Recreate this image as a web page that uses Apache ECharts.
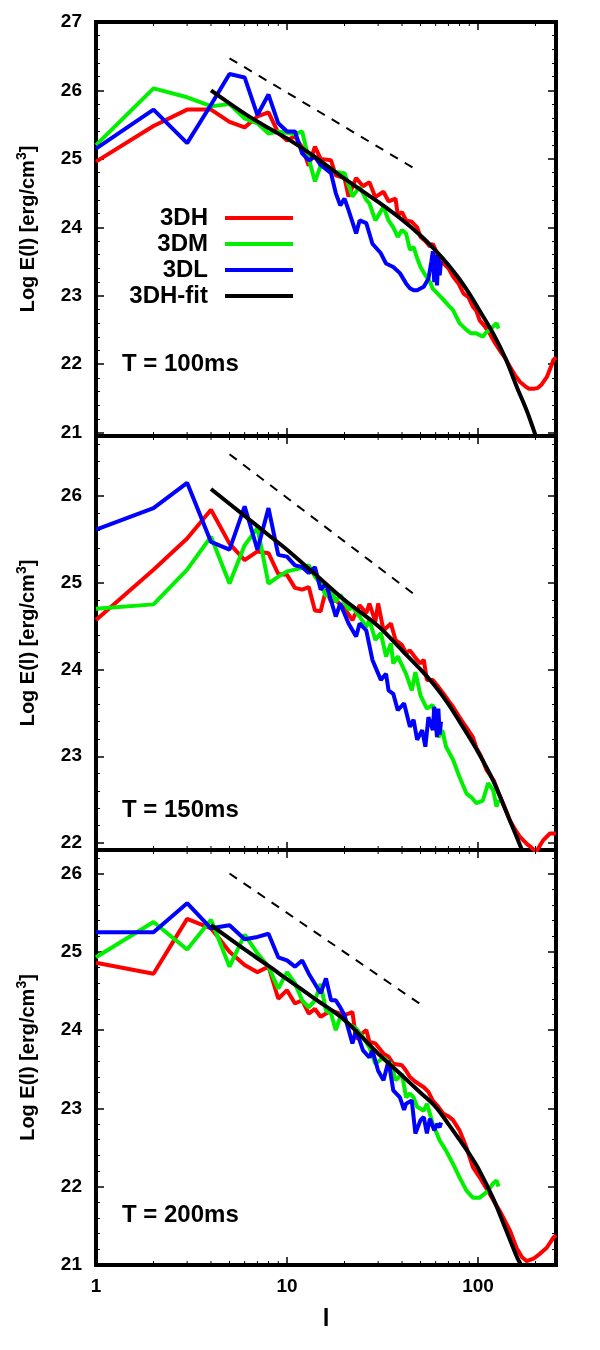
<!DOCTYPE html>
<html>
<head>
<meta charset="utf-8">
<script src="https://cdn.jsdelivr.net/npm/echarts@6/dist/echarts.min.js"></script>
<style>
html, body { margin: 0; padding: 0; background: #fff; }
#chart { width: 600px; height: 1350px; }
</style>
</head>
<body>
<div id="chart"></div>
<script>
// [l, log E] pairs

// T = 100ms
var p1Red = [[1,24.96],[2,25.48],[3,25.72],[4,25.72],[5,25.54],[6,25.46],[7,25.62],[8,25.68],[9,25.38],[10,25.27],[11,25.33],[12,25.17],[13,24.9],[14,25.18],[15,25.0],[17,24.98],[18,24.76],[20,24.72],[21,24.45],[23,24.72],[25,24.6],[27,24.66],[29,24.44],[32,24.52],[34,24.38],[37,24.42],[38,24.18],[40,24.22],[42,24.1],[45,24.08],[48,24.0],[50,23.86],[53,23.8],[56,23.72],[58,23.76],[62,23.58],[66,23.47],[70,23.4],[74,23.28],[79,23.18],[84,23.03],[89,22.98],[94,22.84],[98,22.78],[102,22.64],[108,22.56],[115,22.45],[122,22.32],[130,22.2],[138,22.1],[147,21.96],[156,21.84],[166,21.74],[176,21.68],[185,21.64],[195,21.64],[205,21.65],[215,21.7],[229,21.81],[240,21.95],[248,22.06],[256,22.1]];
var p1Green = [[1,25.2],[2,26.03],[3,25.9],[4,25.77],[5,25.8],[6,25.59],[7,25.52],[8,25.37],[9,25.4],[10,25.38],[11,25.36],[12,25.4],[13,25.0],[14,24.67],[15,24.9],[16,24.88],[18,24.81],[20,24.79],[22,24.45],[24,24.59],[26,24.4],[27,24.35],[29,24.1],[32,24.3],[34,24.1],[36,24.0],[38,23.86],[40,23.96],[42,23.91],[44,23.67],[46,23.71],[48,23.55],[50,23.42],[53,23.3],[56,23.2],[58,23.1],[62,23.02],[66,22.94],[70,22.86],[74,22.79],[80,22.6],[87,22.5],[92,22.45],[98,22.45],[106,22.4],[110,22.46],[115,22.5],[120,22.55],[125,22.6],[128,22.52]];
var p1Blue = [[1,25.15],[2,25.72],[3,25.23],[4,25.79],[5,26.24],[6,26.19],[7,25.64],[8,25.94],[9,25.52],[10,25.4],[11,25.4],[12,25.08],[13,24.98],[14,25.03],[15,24.91],[17,24.79],[18,24.5],[19,24.32],[20,24.42],[21,24.25],[23,23.91],[24,24.1],[26,24.06],[28,23.76],[31,23.62],[33,23.47],[36,23.42],[39,23.33],[42,23.18],[44,23.11],[46,23.08],[48,23.08],[52,23.13],[55,23.25],[57,23.5],[58,23.65],[59,23.2],[60,23.6],[61,23.15],[62,23.58],[63,23.3],[64,23.5]];
var p1Fit = [[4,26.0],[6,25.66],[8,25.45],[10,25.3],[14,25.03],[20,24.71],[30,24.37],[40,24.11],[50,23.88],[60,23.66],[70,23.45],[80,23.24],[90,23.03],[100,22.82],[120,22.45],[140,22.07],[160,21.66],[180,21.32],[200,20.96]];
var p1Slope = [[5,26.47],[47,24.85]];

// T = 150ms
var p2Red = [[1,24.57],[2,25.15],[3,25.51],[4,25.84],[5,25.45],[6,25.26],[7,25.36],[8,25.34],[9,25.1],[10,25.09],[11,24.94],[12,24.92],[13,24.95],[14,24.68],[15,24.67],[16,24.92],[17,24.78],[18,24.8],[20,24.7],[22,24.57],[24,24.74],[26,24.65],[27,24.76],[29,24.55],[30,24.76],[32,24.45],[35,24.53],[37,24.34],[40,24.28],[42,24.19],[44,24.22],[48,24.11],[50,24.07],[52,24.11],[54,23.88],[58,23.88],[62,23.8],[66,23.72],[70,23.64],[74,23.57],[79,23.47],[84,23.38],[89,23.3],[94,23.22],[98,23.1],[102,23.03],[106,22.95],[111,22.84],[121,22.72],[128,22.58],[135,22.46],[141,22.36],[147,22.26],[156,22.16],[166,22.07],[180,21.99],[190,21.95],[202,21.9],[212,21.98],[219,22.03],[238,22.11],[256,22.11]];
var p2Green = [[1,24.7],[2,24.75],[3,25.15],[4,25.53],[5,24.99],[6,25.43],[7,25.63],[8,24.99],[9,25.07],[10,25.13],[11,25.15],[12,25.17],[13,25.2],[14,25.07],[15,24.99],[16,24.84],[17,24.94],[18,24.78],[19,24.86],[21,24.69],[22,24.72],[24,24.61],[26,24.49],[27,24.57],[29,24.34],[31,24.42],[33,24.15],[35,24.3],[36,24.07],[38,24.15],[42,23.95],[45,23.76],[47,23.97],[50,23.7],[54,23.55],[58,23.59],[62,23.22],[65,23.3],[68,23.11],[74,22.96],[80,22.76],[87,22.57],[93,22.52],[98,22.46],[106,22.49],[113,22.69],[120,22.61],[125,22.42],[128,22.5]];
var p2Blue = [[1,25.61],[2,25.86],[3,26.15],[4,25.47],[5,25.38],[6,25.88],[7,25.38],[8,25.86],[9,25.32],[10,25.3],[11,25.2],[12,25.18],[13,25.11],[14,25.18],[15,24.92],[16,24.99],[18,24.61],[19,24.76],[21,24.53],[23,24.38],[24,24.53],[26,24.45],[28,24.11],[29,24.03],[31,23.88],[33,23.95],[34,23.76],[36,23.72],[38,23.53],[41,23.61],[44,23.34],[46,23.42],[48,23.19],[51,23.3],[53,23.11],[55,23.45],[58,23.3],[59,23.57],[61,23.22],[62,23.55],[63,23.25],[64,23.4]];
var p2Fit = [[4,26.08],[6,25.77],[8,25.55],[10,25.38],[14,25.1],[20,24.8],[30,24.5],[40,24.22],[50,24.0],[60,23.8],[70,23.6],[80,23.4],[90,23.22],[100,23.05],[120,22.72],[140,22.37],[160,22.06],[175,21.85]];
var p2Slope = [[5,26.48],[48,24.84]];

// T = 200ms
var p3Red = [[1,24.86],[2,24.72],[3,25.42],[4,25.3],[5,25.0],[6,24.83],[7,24.74],[8,24.81],[9,24.4],[10,24.51],[11,24.34],[12,24.38],[13,24.21],[14,24.27],[15,24.17],[17,24.25],[18,24.23],[20,24.19],[22,24.23],[23,23.89],[26,24.0],[27,23.85],[29,23.83],[32,23.7],[34,23.66],[36,23.57],[40,23.55],[42,23.48],[44,23.4],[47,23.34],[52,23.27],[55,23.21],[58,23.1],[62,23.02],[66,22.93],[70,22.9],[74,22.85],[80,22.72],[87,22.5],[94,22.25],[102,22.12],[108,22.02],[115,21.91],[122,21.8],[130,21.69],[138,21.57],[147,21.44],[159,21.22],[170,21.1],[180,21.05],[195,21.08],[210,21.14],[229,21.22],[248,21.35],[256,21.38]];
var p3Green = [[1,24.93],[2,25.38],[3,25.03],[4,25.41],[5,24.81],[6,25.22],[7,24.98],[8,24.81],[9,24.53],[10,24.74],[11,24.6],[12,24.38],[13,24.29],[14,24.38],[15,24.59],[16,24.25],[17,24.21],[18,24.0],[19,24.17],[21,24.08],[23,24.02],[25,23.91],[27,23.78],[29,23.57],[32,23.65],[35,23.57],[37,23.36],[40,23.44],[42,23.14],[44,23.19],[46,23.14],[48,23.02],[52,22.97],[54,23.06],[56,22.93],[58,22.8],[63,22.59],[68,22.46],[74,22.29],[80,22.12],[87,21.95],[94,21.86],[102,21.86],[111,21.93],[120,22.04],[125,22.08],[128,22.0]];
var p3Blue = [[1,25.25],[2,25.25],[3,25.62],[4,25.3],[5,25.34],[6,25.16],[7,25.19],[8,25.23],[9,24.93],[10,24.89],[11,24.81],[12,24.89],[13,24.72],[15,24.47],[16,24.66],[17,24.38],[18,24.38],[19,24.29],[20,24.19],[22,23.83],[23,24.0],[25,23.74],[27,23.65],[28,23.74],[30,23.48],[32,23.36],[34,23.61],[36,23.23],[39,23.14],[41,22.98],[42,23.06],[45,23.1],[47,22.68],[50,22.85],[52,22.89],[54,22.68],[56,22.87],[59,22.72],[61,22.8],[63,22.76],[64,22.82]];
var p3Fit = [[4,25.34],[6,25.03],[8,24.82],[10,24.65],[14,24.4],[20,24.13],[30,23.7],[40,23.42],[50,23.2],[60,23.02],[70,22.8],[80,22.6],[90,22.42],[100,22.24],[120,21.85],[140,21.45],[160,21.1],[170,20.98]];
var p3Slope = [[5,26.0],[50,24.33]];

var seriesNames = ['3DH', '3DM', '3DL', '3DH-fit'];
var panelLabels = ['T = 100ms', 'T = 150ms', 'T = 200ms'];
var xTickLabels = [1, 10, 100];
var xMinorTicks = [2, 3, 4, 5, 6, 7, 8, 9, 20, 30, 40, 50, 60, 70, 80, 90, 200];

var FONT = '"Liberation Sans", Arial, sans-serif';

var panels = [
  { top: 22,  height: 414, ymin: 20.95, ymax: 27,    data: [p1Red, p1Green, p1Blue, p1Fit, p1Slope], labelY: 364 },
  { top: 436, height: 414, ymin: 21.92, ymax: 26.69, data: [p2Red, p2Green, p2Blue, p2Fit, p2Slope], labelY: 810 },
  { top: 850, height: 415, ymin: 21,    ymax: 26.3,  data: [p3Red, p3Green, p3Blue, p3Fit, p3Slope], labelY: 1215 }
];
var colors = ['#ff0000', '#00f000', '#0000ff', '#000000'];

var chart = echarts.init(document.getElementById('chart'), null, { renderer: 'canvas' });

var grids = [], xAxes = [], yAxes = [], series = [], texts = [];

function isInt(v) { return Math.abs(v - Math.round(v)) < 1e-6; }

panels.forEach(function (p, i) {
  grids.push({
    left: 96, width: 460, top: p.top, height: p.height,
    show: true, borderWidth: 4, borderColor: '#000', backgroundColor: 'transparent',
    outerBoundsMode: 'none'
  });

  ['bottom', 'top'].forEach(function (pos) {
    var showLabel = (i === 2 && pos === 'bottom');
    xAxes.push({
      type: 'log', logBase: 10, gridIndex: i, position: pos,
      min: 1, max: 256,
      axisLine: { show: false },
      axisTick: { show: true, inside: true, length: 8, lineStyle: { color: '#000', width: 1.5 } },
      splitLine: { show: false },
      axisLabel: {
        show: showLabel, margin: 12,
        fontSize: 19, fontWeight: 'bold', fontFamily: FONT, color: '#000',
        formatter: function (v) {
          var r = Math.round(v);
          return (Math.abs(v - r) < 1e-6 && xTickLabels.indexOf(r) >= 0) ? String(r) : '';
        }
      },
      name: showLabel ? 'l' : '',
      nameLocation: 'middle', nameGap: 42,
      nameTextStyle: { fontSize: 24, fontWeight: 'bold', fontFamily: FONT, color: '#000' }
    });
  });

  ['left', 'right'].forEach(function (pos) {
    var left = pos === 'left';
    yAxes.push({
      type: 'value', gridIndex: i, position: pos,
      min: p.ymin, max: p.ymax, splitNumber: 5,
      axisLine: { show: false },
      axisTick: { show: true, inside: true, length: 8, lineStyle: { color: '#000', width: 1.5 } },
      minorTick: { show: true, splitNumber: 5, length: 4, lineStyle: { color: '#000', width: 1 } },
      splitLine: { show: false },
      minorSplitLine: { show: false },
      axisLabel: {
        show: left, margin: 14,
        fontSize: 19, fontWeight: 'bold', fontFamily: FONT, color: '#000',
        formatter: function (v) { return isInt(v) ? String(Math.round(v)) : ''; }
      },
      name: left ? 'Log E(l) [erg/cm{s|3}]' : '',
      nameLocation: 'middle', nameRotate: 90, nameGap: 55,
      nameTextStyle: {
        fontSize: 20, fontWeight: 'bold', fontFamily: FONT, color: '#000',
        rich: { s: { fontSize: 14, fontWeight: 'bold', fontFamily: FONT, color: '#000', verticalAlign: 'top', lineHeight: 26 } }
      }
    });
  });

  var xi = 2 * i, yi = 2 * i;
  p.data.slice(0, 4).forEach(function (d, k) {
    series.push({
      type: 'line', name: seriesNames[k], xAxisIndex: xi, yAxisIndex: yi,
      data: d, symbol: 'none', smooth: k === 3 ? 0.3 : false,
      color: colors[k],
      lineStyle: { color: colors[k], width: 4 },
      z: 2 + k, animation: false, silent: true
    });
  });
  series.push({
    type: 'line', name: 'slope', xAxisIndex: xi, yAxisIndex: yi,
    data: p.data[4], symbol: 'none', color: '#000',
    lineStyle: { color: '#000', width: 2, type: [9, 8] },
    z: 1, animation: false, silent: true
  });
  // gnuplot-style minor ticks on the log axis, bottom and top
  series.push({
    type: 'custom', xAxisIndex: xi, yAxisIndex: yi,
    data: xMinorTicks.map(function (v) { return [v]; }),
    encode: { x: 0 }, silent: true, animation: false, z: 6,
    renderItem: function (params, api) {
      var cs = params.coordSys;
      var x = api.coord([api.value(0), p.ymin])[0];
      var yb = cs.y + cs.height, yt = cs.y;
      return {
        type: 'group', children: [
          { type: 'line', shape: { x1: x, y1: yb, x2: x, y2: yb - 4 }, style: { stroke: '#000', lineWidth: 1 } },
          { type: 'line', shape: { x1: x, y1: yt, x2: x, y2: yt + 4 }, style: { stroke: '#000', lineWidth: 1 } }
        ]
      };
    }
  });

  texts.push({
    type: 'text', x: 122, y: p.labelY, silent: true,
    style: { text: panelLabels[i], font: 'bold 24px ' + FONT, fill: '#000', verticalAlign: 'middle' }
  });
});

var option = {
  backgroundColor: '#fff',
  animation: false,
  grid: grids,
  xAxis: xAxes,
  yAxis: yAxes,
  legend: {
    data: seriesNames,
    orient: 'vertical', align: 'right',
    right: 307, top: 205, padding: 0,
    icon: 'rect', itemWidth: 68, itemHeight: 4, itemGap: 0,
    selectedMode: false,
    textStyle: { fontSize: 24, fontWeight: 'bold', fontFamily: FONT, color: '#000', lineHeight: 26, padding: [0, 12, 0, 0] }
  },
  graphic: texts,
  series: series
};

chart.setOption(option);
</script>
</body>
</html>
